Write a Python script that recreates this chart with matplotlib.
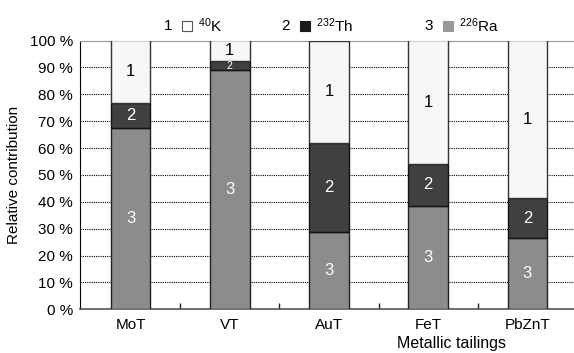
import numpy as np
import matplotlib.pyplot as plt
from matplotlib.patches import Rectangle

plt.rcParams['font.family'] = ['Liberation Sans', 'DejaVu Sans']
plt.rcParams['mathtext.fontset'] = 'custom'
plt.rcParams['mathtext.rm'] = 'Liberation Sans'

tailings = ["MoT", "VT", "AuT", "FeT", "PbZnT"]
ra226 = [67.4, 88.9, 28.7, 38.5, 26.5]
th232 = [9.5, 3.5, 33.0, 15.7, 14.8]
k40 = [23.1, 7.6, 38.3, 45.8, 58.7]

legend_nums = ["1", "2", "3"]
legend_names = [r"$\mathrm{^{40}}$K", r"$\mathrm{^{232}}$Th", r"$\mathrm{^{226}}$Ra"]
colors = ["#f7f7f7", "#404040", "#8c8c8c"]
legend_colors = ["#ffffff", "#1a1a1a", "#999999"]
text_colors = ["black", "white", "white"]

fig = plt.figure(figsize=(5.74, 3.53), dpi=100)
ax = fig.add_axes([80 / 574, 43.7 / 353, 494 / 574, 268.8 / 353])

x = np.arange(len(tailings))
w = 0.4
ra = np.array(ra226)
th = np.array(th232)
k = np.array(k40)

ax.bar(x, ra, w, color=colors[2], edgecolor="#222222", linewidth=1, zorder=3)
ax.bar(x, th, w, bottom=ra, color=colors[1], edgecolor="#111111", linewidth=1, zorder=3)
ax.bar(x, k, w, bottom=ra + th, color=colors[0], edgecolor="#333333", linewidth=1, zorder=3)

# segment numbers
for i in range(len(x)):
    segs = [(k[i], ra[i] + th[i]), (th[i], ra[i]), (ra[i], 0)]
    for j, (h, b) in enumerate(segs):
        fs = 12 if h > 6 else 7.5
        ax.text(x[i], b + h / 2, legend_nums[j], ha="center", va="center",
                fontsize=fs, color=text_colors[j], zorder=4)

ax.set_xlim(-0.51, 4.47)
ax.set_ylim(0, 100)
ax.set_yticks(np.arange(0, 101, 10))
ax.set_yticklabels([f"{v} %" for v in range(0, 101, 10)], fontsize=11)
ax.set_xticks(x)
ax.set_xticklabels(tailings, fontsize=11)
ax.set_xticks(x[:-1] + 0.5, minor=True)
ax.tick_params(axis="x", which="major", length=0, pad=6)
ax.tick_params(axis="x", which="minor", direction="in", length=4, width=1, color="#222222")
ax.tick_params(axis="y", length=0, pad=5)

for v in range(10, 100, 10):
    ax.axhline(v, color="black", linestyle=(0, (1, 1)), linewidth=0.8, zorder=1)

ax.spines["right"].set_visible(False)
ax.spines["top"].set_color("#999999")
ax.spines["left"].set_color("black")
ax.spines["bottom"].set_color("#555555")
ax.spines["bottom"].set_linewidth(1.2)

ax.set_ylabel("Relative contribution", fontsize=11, labelpad=6)
ax.set_xlabel("Metallic tailings", fontsize=11.5, va="center")
ax.xaxis.set_label_coords(0.753, -0.127)

# legend along the top
num_x = [168, 286, 429]
for i in range(3):
    fig.text(num_x[i] / 574, 1 - 26 / 353, legend_nums[i], fontsize=11, ha="center", va="center")
    fig.patches.append(Rectangle(((num_x[i] + 14) / 574, 1 - 31 / 353), 10 / 574, 10 / 353,
                                 transform=fig.transFigure, facecolor=legend_colors[i],
                                 edgecolor="#555555" if i == 0 else legend_colors[i], linewidth=0.8))
    fig.text((num_x[i] + 30) / 574, 1 - 26 / 353, legend_names[i], fontsize=11, ha="left", va="center")

fig.savefig("out.png", dpi=100)
